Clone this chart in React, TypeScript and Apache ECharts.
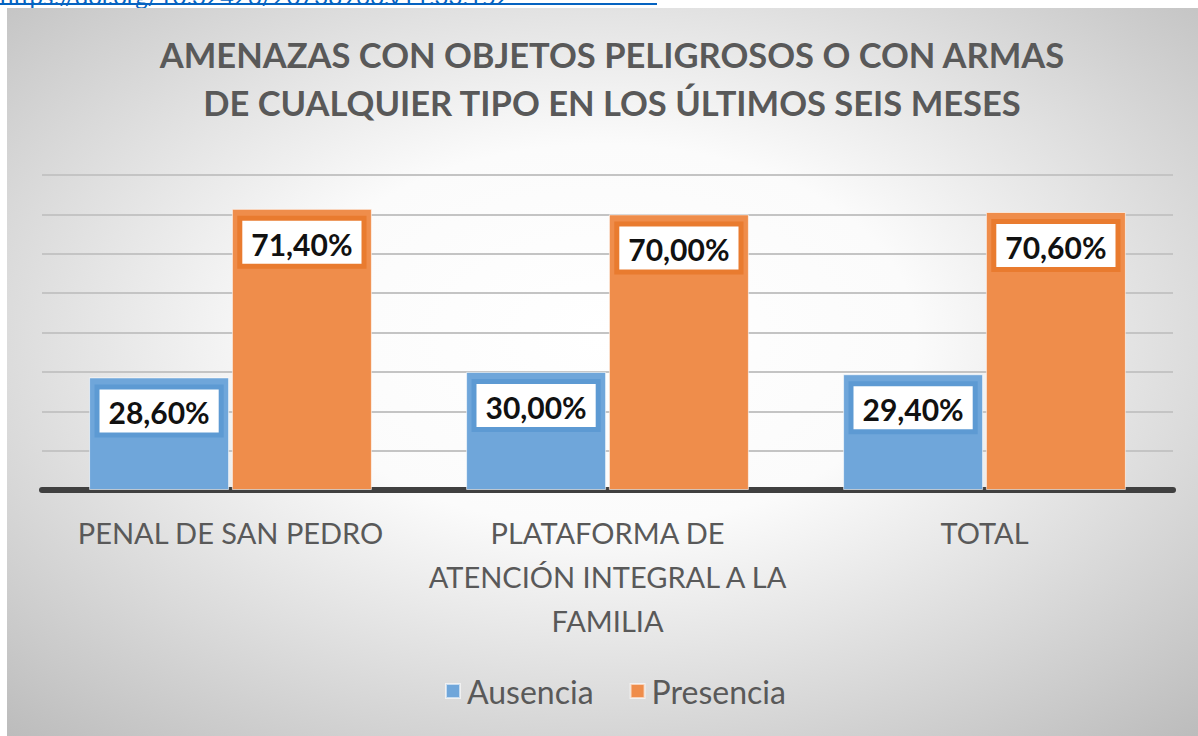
import React, { useEffect, useRef } from "react";
import * as echarts from "echarts";

const titleLines = [
  "AMENAZAS CON OBJETOS PELIGROSOS O CON ARMAS",
  "DE CUALQUIER TIPO EN LOS ÚLTIMOS SEIS MESES",
];
const linkText = "https://doi.org/10.32426/20738966.v11.33.152";
const categories = [
  "PENAL DE SAN PEDRO",
  "PLATAFORMA DE\nATENCIÓN INTEGRAL A LA\nFAMILIA",
  "TOTAL",
];
const ausencia = [28.6, 30.0, 29.4];
const presencia = [71.4, 70.0, 70.6];
const seriesNames = ["Ausencia", "Presencia"];

const FONT = "Lato, 'Open Sans', sans-serif";
const fmt = (v: number) => v.toFixed(2).replace(".", ",") + "%";

export default function App() {
  const ref = useRef<HTMLDivElement>(null);
  useEffect(() => {
    if (!ref.current) return;
    const chart = echarts.init(ref.current, null, { renderer: "svg" });
    const label = (border: string) => ({
      show: true,
      position: "insideTop" as const,
      distance: 12,
      formatter: (p: any) => fmt(p.value),
      fontFamily: FONT,
      fontWeight: "bold" as const,
      fontSize: 30,
      color: "#111",
      backgroundColor: "#ffffff",
      borderColor: border,
      borderWidth: 5,
      padding: [8, 9, 5, 9],
    });
    chart.setOption({
      animation: false,
      graphic: [
        {
          type: "rect",
          z: -10,
          shape: { x: 7, y: 8, width: 1191, height: 728 },
          style: {
            fill: new echarts.graphic.RadialGradient(0.5, 0.45, 0.75, [
              { offset: 0, color: "#ffffff" },
              { offset: 0.35, color: "#fbfbfb" },
              { offset: 1, color: "#bbbbbb" },
            ]),
          },
        },
        {
          type: "text",
          z: -20,
          x: 0,
          y: -17,
          style: {
            text: linkText,
            font: "24px " + FONT,
            fill: "#0563c1",
          },
        },
        {
          type: "line",
          z: -20,
          shape: { x1: 0, y1: 4, x2: 657, y2: 4 },
          style: { stroke: "#0563c1", lineWidth: 2 },
        },
      ],
      title: {
        text: titleLines.join("\n"),
        left: 607,
        top: 25,
        textAlign: "center",
        textStyle: {
          fontFamily: FONT,
          fontWeight: "bold",
          fontSize: 34.5,
          lineHeight: 48,
          color: "#595959",
        },
      },
      legend: {
        data: seriesNames,
        bottom: 24,
        left: 440,
        icon: "rect",
        itemWidth: 14,
        itemHeight: 14,
        itemGap: 36,
        textStyle: { fontFamily: FONT, fontSize: 32, color: "#595959", padding: [0, 0, 0, 2] },
      },
      grid: { left: 42, right: 25, top: 175, bottom: 246, containLabel: false },
      xAxis: {
        type: "category",
        data: categories,
        axisLine: { lineStyle: { color: "#404040", width: 6 } },
        axisTick: { show: false },
        axisLabel: {
          interval: 0,
          margin: 20,
          fontFamily: FONT,
          fontSize: 29,
          lineHeight: 44,
          color: "#595959",
        },
      },
      yAxis: {
        type: "value",
        min: 0,
        max: 80,
        interval: 10,
        axisLabel: { show: false },
        axisLine: { show: false },
        axisTick: { show: false },
        splitLine: { lineStyle: { color: "#c4c4c4", width: 2 } },
      },
      series: [
        {
          name: seriesNames[0],
          type: "bar",
          data: ausencia,
          barWidth: 140,
          barGap: "2%",
          itemStyle: { color: "#6fa6da", borderColor: "rgba(255,255,255,0.6)", borderWidth: 1 },
          label: label("#5d9ad3"),
        },
        {
          name: seriesNames[1],
          type: "bar",
          data: presencia,
          barWidth: 140,
          itemStyle: { color: "#ef8d4b", borderColor: "rgba(255,255,255,0.6)", borderWidth: 1 },
          label: label("#e97b2f"),
        },
      ],
    });
    return () => chart.dispose();
  }, []);
  return (
    <div
      ref={ref}
      style={{ position: "absolute", left: 0, top: 0, width: 1198, height: 736 }}
    />
  );
}
